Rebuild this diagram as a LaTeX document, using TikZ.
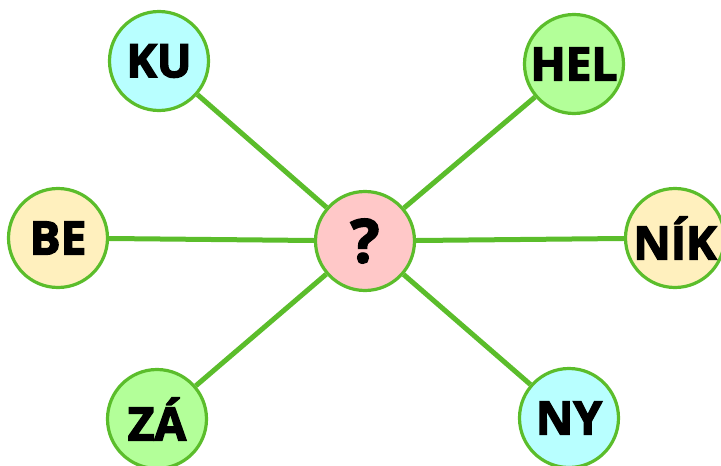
\documentclass[tikz,border=0pt]{standalone}
\usepackage{fontspec}
\setmainfont{Open Sans}[BoldFeatures={FakeBold=3}]
\definecolor{edgegreen}{HTML}{5BBD2B}
\definecolor{fcyan}{HTML}{B8FFFF}
\definecolor{fgreen}{HTML}{B3FF99}
\definecolor{fyellow}{HTML}{FFF0BE}
\definecolor{fpink}{HTML}{FFC8C8}
\begin{document}
\begin{tikzpicture}[x=1pt,y=-1pt,
  bub/.style={circle,draw=edgegreen,line width=3.2pt,minimum size=99pt,inner sep=0pt,
    font=\fontsize{46}{46}\selectfont\bfseries},
  conn/.style={draw=edgegreen,line width=5pt}]
\useasboundingbox (0,0) rectangle (721,466);
\node[bub,fill=fpink,font=\fontsize{60}{60}\selectfont\bfseries] (q) at (365,241) {?};
\node[bub,fill=fcyan] (ku) at (159,61) {KU};
\node[bub,fill=fgreen] (hel) at (574,64) {HEL};
\node[bub,fill=fyellow] (be) at (58,238) {BE};
\node[bub,fill=fyellow] (nik) at (675,238) {NÍK};
\node[bub,fill=fgreen] (za) at (157,419) {ZÁ};
\node[bub,fill=fcyan] (ny) at (569,418) {NY};
\foreach \n in {ku,hel,be,nik,za,ny}{\draw[conn] (q) -- (\n);}
\end{tikzpicture}
\end{document}
